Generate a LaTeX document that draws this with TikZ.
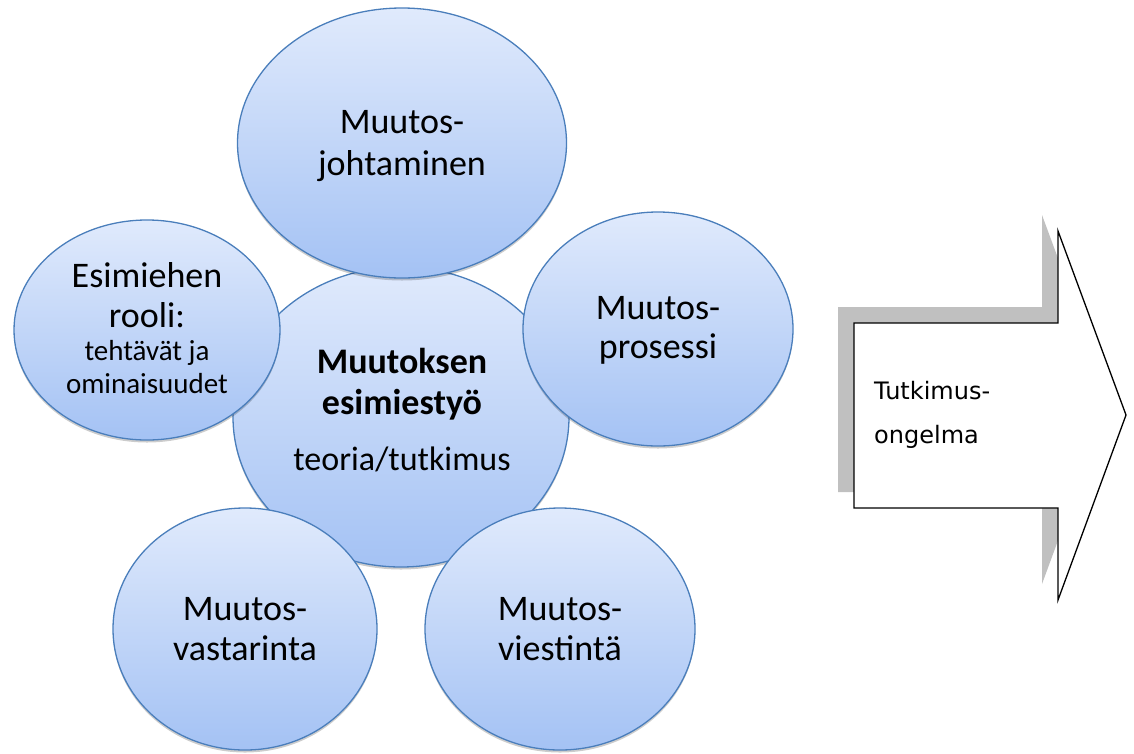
\documentclass[tikz,border=0pt]{standalone}
\usepackage{fontspec}
\setmainfont{Carlito}
\newfontfamily\arrowfont{DejaVu Sans}
\usetikzlibrary{shapes.geometric,shadows}

\definecolor{bubbleline}{HTML}{4A7EBB}
\definecolor{bubbletop}{HTML}{E0EAFC}
\definecolor{bubblebottom}{HTML}{A4C2F4}
\definecolor{arrowshade}{HTML}{C0C0C0}

\begin{document}
\begin{tikzpicture}[x=1pt,y=-1pt,
  bubble/.style={ellipse, draw=bubbleline, line width=1.3pt,
    top color=bubbletop, bottom color=bubblebottom, inner sep=0pt,
    drop shadow={shadow xshift=0pt, shadow yshift=-2.5pt, opacity=.2, fill=black}},
  big/.style={anchor=base, inner sep=0pt, font=\fontsize{36}{40}\selectfont},
  bigbold/.style={big, font=\fontsize{36}{40}\selectfont\bfseries},
  small/.style={anchor=base, inner sep=0pt, font=\fontsize{29}{33}\selectfont},
  mid/.style={anchor=base, inner sep=0pt, font=\fontsize{34}{40}\selectfont},
  arrowtext/.style={anchor=base west, inner sep=0pt, font=\arrowfont\fontsize{24}{28}\selectfont},
]
\useasboundingbox (0,0) rectangle (1134,753);

% central topic
\node[bubble, minimum width=336pt, minimum height=300pt] (core) at (401,417) {};

% surrounding themes
\node[bubble, minimum width=329pt, minimum height=270pt] (lead) at (402,143) {};
\node[bubble, minimum width=266pt, minimum height=220pt] (role) at (147,330) {};
\node[bubble, minimum width=270pt, minimum height=234pt] (proc) at (658,329) {};
\node[bubble, minimum width=264pt, minimum height=242pt] (resist) at (245,629) {};
\node[bubble, minimum width=270pt, minimum height=242pt] (comm) at (560,629) {};

% labels
\node[bigbold] (core1) at (402,373) {Muutoksen};
\node[bigbold] (core2) at (402,414) {esimiestyö};
\node[mid]     (core3) at (402,470) {teoria/tutkimus};

\node[big] (lead1) at (402,133) {Muutos-};
\node[big] (lead2) at (402,175) {johtaminen};

\node[big]   (role1) at (147,287) {Esimiehen};
\node[big]   (role2) at (147,327) {rooli:};
\node[small] (role3) at (147,360) {tehtävät ja};
\node[small] (role4) at (147,393) {ominaisuudet};

\node[big] (proc1) at (658,319) {Muutos-};
\node[big] (proc2) at (658,358) {prosessi};

\node[big] (resist1) at (245,620) {Muutos-};
\node[big] (resist2) at (245,660) {vastarinta};

\node[big] (comm1) at (560,620) {Muutos-};
\node[big] (comm2) at (560,660) {viestintä};

% block arrow with offset shadow
\fill[arrowshade, shift={(-16,-16)}]
  (854,323) -- (1058,323) -- (1058,231) -- (1126,415)
  -- (1058,600) -- (1058,508) -- (854,508) -- cycle;
\draw[fill=white, line width=1.3pt, line join=miter]
  (854,323) -- (1058,323) -- (1058,231) -- (1126,415)
  -- (1058,600) -- (1058,508) -- (854,508) -- cycle;
\node[arrowtext] (prob1) at (874,399) {Tutkimus-};
\node[arrowtext] (prob2) at (874,443) {ongelma};
\end{tikzpicture}
\end{document}
